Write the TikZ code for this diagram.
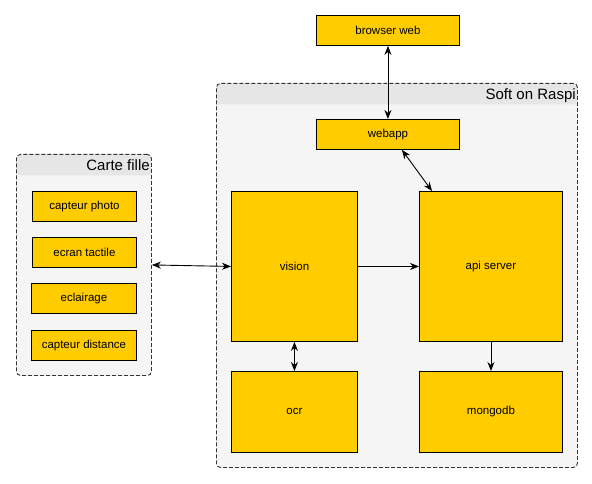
\documentclass[tikz,border=0pt]{standalone}
\usepackage{fontspec}
\setmainfont{Liberation Sans}
\usetikzlibrary{arrows.meta}
\definecolor{boxyellow}{HTML}{FFCC00}
\definecolor{groupfill}{HTML}{F5F5F5}
\definecolor{groupband}{HTML}{E6E6E6}
\tikzset{box/.style={draw=black, fill=boxyellow, line width=0.9pt, anchor=north west, font=\fontsize{11.5}{13}\selectfont, inner sep=0pt},
  group/.style={draw=black!80, fill=groupfill, dash pattern=on 4pt off 2pt, line width=0.9pt, rounded corners=4pt, anchor=north west, inner sep=0pt,
    path picture={\fill[groupband] (path picture bounding box.north west) rectangle ([yshift=-21pt]path picture bounding box.north east);}},
  grouptitle/.style={anchor=north east, font=\fontsize{15}{17}\selectfont, inner sep=0pt, xshift=-2pt, yshift=-5pt},
  link/.style={line width=0.9pt, >={Stealth[length=9pt, width=7pt]}}}

\begin{document}
\begin{tikzpicture}[x=1pt, y=-1pt]
  \useasboundingbox (0,0) rectangle (592,484);

  % containers
  \node (fille) at (16,154) [group, minimum width=135pt, minimum height=221pt] {};
  \node at (fille.north east) [grouptitle] {Carte fille};
  \node (raspi) at (216,83) [group, minimum width=361pt, minimum height=384pt] {};
  \node at (raspi.north east) [grouptitle] {Soft on Raspi};

  % carte fille
  \node (photo) at (32,191) [box, minimum width=104pt, minimum height=30pt] {capteur photo};
  \node (ecran) at (32,237) [box, minimum width=104pt, minimum height=30pt] {ecran tactile};
  \node (eclair) at (31,283) [box, minimum width=105pt, minimum height=30pt] {eclairage};
  \node (distance) at (31,330) [box, minimum width=105pt, minimum height=30pt] {capteur distance};

  % soft
  \node (browser) at (316,15) [box, minimum width=143pt, minimum height=30pt] {browser web};
  \node (webapp) at (316,119) [box, minimum width=143pt, minimum height=30pt] {webapp};
  \node (vision) at (231,191) [box, minimum width=126pt, minimum height=150pt] {vision};
  \node (api) at (419,191) [box, minimum width=143pt, minimum height=150pt] {api server};
  \node (ocr) at (231,371) [box, minimum width=126pt, minimum height=81pt] {ocr};
  \node (mongo) at (419,371) [box, minimum width=143pt, minimum height=81pt] {mongodb};

  % links
  \draw[link, <->] (browser) -- (webapp);
  \draw[link, <->] ([xshift=14pt]webapp.south) -- ([xshift=13pt]api.north west);
  \draw[link, <->] (fille.east) -- (vision.west);
  \draw[link, ->] (vision) -- (api);
  \draw[link, <->] (vision) -- (ocr);
  \draw[link, ->] (api) -- (mongo);

\end{tikzpicture}
\end{document}
